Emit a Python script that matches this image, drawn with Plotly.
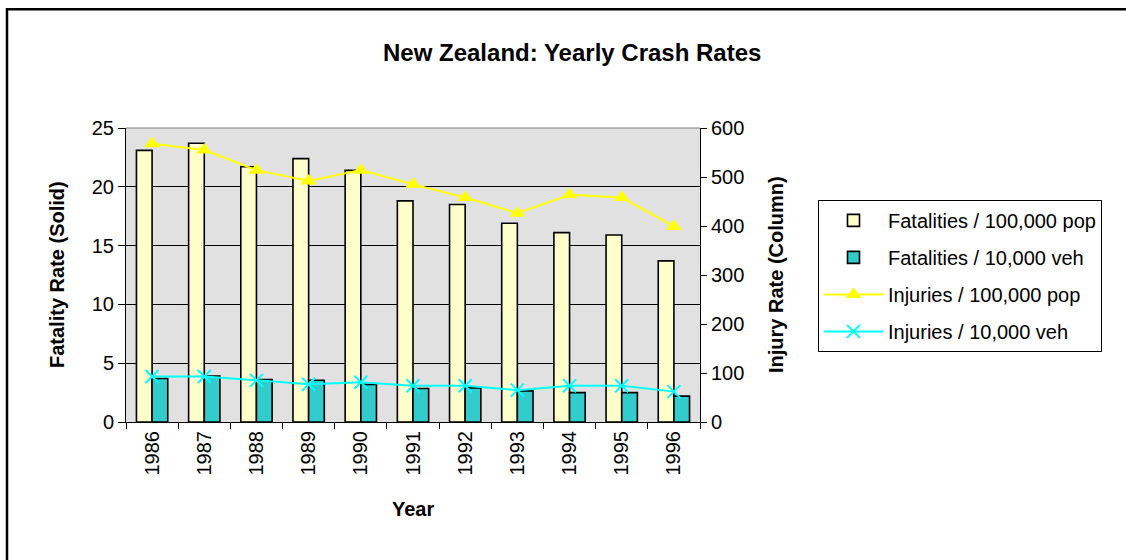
import plotly.graph_objects as go

years = ["1986", "1987", "1988", "1989", "1990", "1991", "1992", "1993", "1994", "1995", "1996"]
fat_pop = [23.1, 23.7, 21.7, 22.4, 21.4, 18.8, 18.5, 16.9, 16.1, 15.9, 13.7]
fat_veh = [3.7, 3.9, 3.6, 3.55, 3.2, 2.85, 2.9, 2.65, 2.5, 2.5, 2.2]
inj_pop = [568, 555, 514, 492, 514, 485, 458, 426, 464, 458, 399]
inj_veh = [93, 93, 85, 77, 81, 74, 74, 65, 74, 74, 62]

W, H = 1126, 560
L, R, T, B = 126, 700, 128, 422.5
FONT = "Liberation Sans, Arial, sans-serif"


def px_x(p):
    return (p - L) / (R - L)


def px_y(p):
    return (B - p) / (B - T)


fig = go.Figure()
fig.add_trace(go.Bar(
    x=years, y=fat_pop, name="Fatalities / 100,000 pop",
    marker=dict(color="#FFFFCC", line=dict(color="black", width=1.6)),
    legendgroup="a",
))
fig.add_trace(go.Bar(
    x=years, y=fat_veh, name="Fatalities / 10,000 veh",
    marker=dict(color="#33CCCC", line=dict(color="black", width=1.6)),
    legendgroup="b",
))
fig.add_trace(go.Scatter(
    x=years, y=inj_pop, name="Injuries / 100,000 pop", yaxis="y2",
    mode="lines+markers",
    line=dict(color="#FFFF00", width=2),
    marker=dict(symbol="triangle-up", size=14, color="#FFFF00"),
    legendgroup="c",
))
fig.add_trace(go.Scatter(
    x=years, y=inj_veh, name="Injuries / 10,000 veh", yaxis="y2",
    mode="lines+markers",
    line=dict(color="#00FFFF", width=2),
    marker=dict(symbol="x-thin", size=13, color="#00FFFF",
                line=dict(color="#00FFFF", width=2)),
    legendgroup="d",
))

fig.update_layout(
    width=W, height=H,
    margin=dict(l=L, r=W - R, t=T, b=H - B, autoexpand=False),
    paper_bgcolor="white",
    plot_bgcolor="#E1E1E1",
    font=dict(family=FONT, size=20, color="black"),
    barmode="group",
    bargap=0.4,
    bargroupgap=0.0,
    showlegend=True,
    legend=dict(
        x=px_x(818), y=px_y(200), xanchor="left", yanchor="top",
        bordercolor="black", borderwidth=1, bgcolor="white",
        font=dict(family=FONT, size=20, color="black"),
        tracegroupgap=8, itemwidth=59,
        traceorder="grouped",
    ),
    xaxis=dict(
        type="category", range=[-0.5, 10.5], autorange=False,
        showline=True, linecolor="black", linewidth=1,
        ticks="outside", ticklen=6, tickcolor="black", tickson="boundaries",
        tickangle=-90, showgrid=False, tickfont=dict(size=20),
    ),
    yaxis=dict(
        range=[0, 25], dtick=5, showline=True, linecolor="black", linewidth=1,
        ticks="outside", ticklen=7, tickcolor="black",
        showgrid=True, gridcolor="black", gridwidth=1, zeroline=False,
        tickfont=dict(size=20),
    ),
    yaxis2=dict(
        range=[0, 600], dtick=100, overlaying="y", side="right",
        showline=True, linecolor="black", linewidth=1,
        ticks="outside", ticklen=6, tickcolor="black",
        showgrid=False, zeroline=False, tickfont=dict(size=20),
    ),
    annotations=[
        dict(text="<b>New Zealand: Yearly Crash Rates</b>", xref="paper", yref="paper",
             x=px_x(572), y=px_y(52), xanchor="center", yanchor="middle",
             showarrow=False, font=dict(size=24)),
        dict(text="<b>Fatality Rate (Solid)</b>", xref="paper", yref="paper",
             x=px_x(57), y=0.5, xanchor="center", yanchor="middle", textangle=-90,
             showarrow=False, font=dict(size=20)),
        dict(text="<b>Injury Rate (Column)</b>", xref="paper", yref="paper",
             x=px_x(776), y=0.5, xanchor="center", yanchor="middle", textangle=-90,
             showarrow=False, font=dict(size=20)),
        dict(text="<b>Year</b>", xref="paper", yref="paper",
             x=0.5, y=px_y(510), xanchor="center", yanchor="middle",
             showarrow=False, font=dict(size=20)),
    ],
    shapes=[
        dict(type="rect", xref="paper", yref="paper",
             x0=px_x(7), x1=px_x(1200), y0=px_y(9), y1=px_y(700),
             line=dict(color="black", width=2.5), fillcolor="rgba(0,0,0,0)", layer="above"),
        dict(type="line", xref="paper", yref="paper", x0=0, x1=1, y0=1, y1=1,
             line=dict(color="#808080", width=1), layer="above"),
    ],
)

fig.write_html("out.html")
